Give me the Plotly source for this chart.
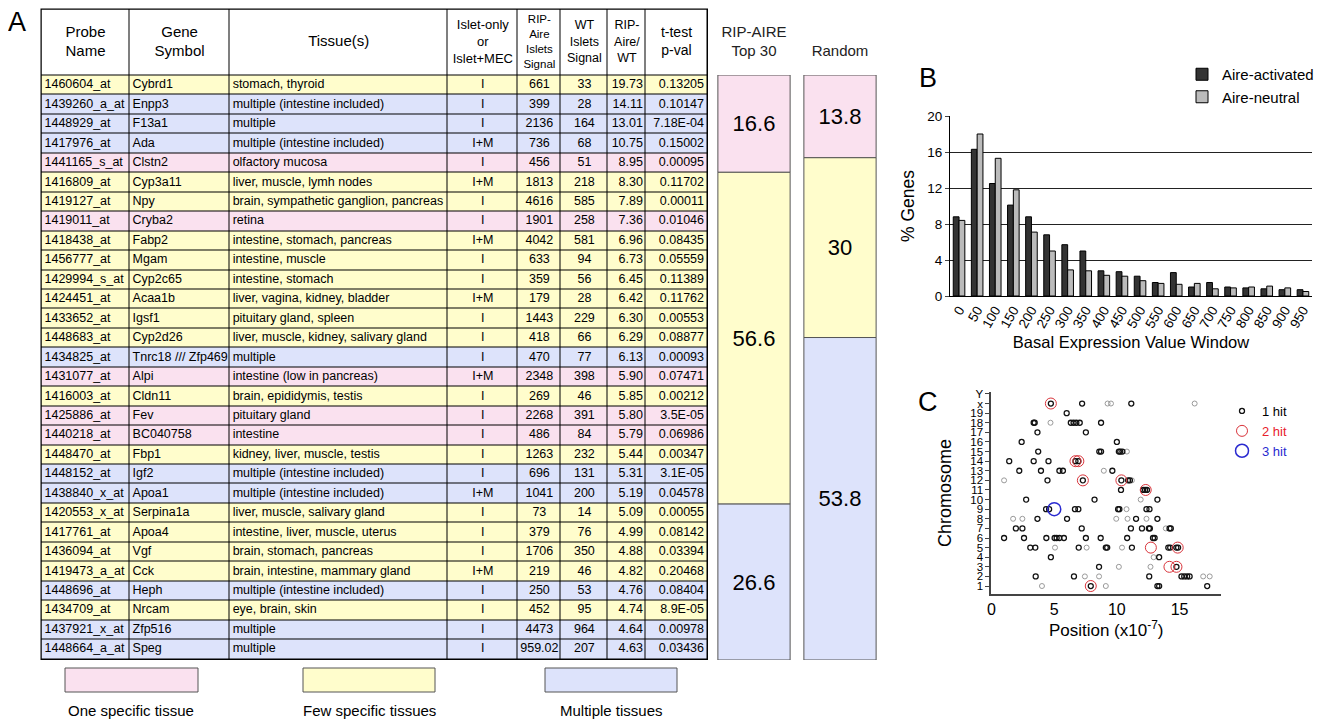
import plotly.graph_objects as go

# figure geometry (the page adds an 8 px body margin)
OFF = 8
W, H = 1325 - OFF, 721 - OFF
FONT = "Liberation Sans, Arial, sans-serif"
PINK, YELLOW, BLUE = "#FAE1EF", "#FFFDCC", "#DDE3FB"


def fx(px):
    return (px - OFF) / W


def fy(py):
    return (H - (py - OFF)) / H


# ---------------- Panel A: table ----------------
headers = ["Probe<br>Name", "Gene<br>Symbol", "Tissue(s)", "Islet-only<br>or<br>Islet+MEC",
           "RIP-<br>Aire<br>Islets<br>Signal", "WT<br>Islets<br>Signal", "RIP-<br>Aire/<br>WT", "t-test<br>p-val"]
probes = ["1460604_at", "1439260_a_at", "1448929_at", "1417976_at", "1441165_s_at", "1416809_at",
          "1419127_at", "1419011_at", "1418438_at", "1456777_at", "1429994_s_at", "1424451_at",
          "1433652_at", "1448683_at", "1434825_at", "1431077_at", "1416003_at", "1425886_at",
          "1440218_at", "1448470_at", "1448152_at", "1438840_x_at", "1420553_x_at", "1417761_at",
          "1436094_at", "1419473_a_at", "1448696_at", "1434709_at", "1437921_x_at", "1448664_a_at"]
genes = ["Cybrd1", "Enpp3", "F13a1", "Ada", "Clstn2", "Cyp3a11", "Npy", "Cryba2", "Fabp2", "Mgam",
         "Cyp2c65", "Acaa1b", "Igsf1", "Cyp2d26", "Tnrc18 /// Zfp469", "Alpi", "Cldn11", "Fev",
         "BC040758", "Fbp1", "Igf2", "Apoa1", "Serpina1a", "Apoa4", "Vgf", "Cck", "Heph", "Nrcam",
         "Zfp516", "Speg"]
tissues = ["stomach, thyroid", "multiple (intestine included)", "multiple", "multiple (intestine included)",
           "olfactory mucosa", "liver, muscle, lymh nodes", "brain, sympathetic ganglion, pancreas",
           "retina", "intestine, stomach, pancreas", "intestine, muscle", "intestine, stomach",
           "liver, vagina, kidney, bladder", "pituitary gland, spleen", "liver, muscle, kidney, salivary gland",
           "multiple", "intestine (low in pancreas)", "brain, epididymis, testis", "pituitary gland",
           "intestine", "kidney, liver, muscle, testis", "multiple (intestine included)",
           "multiple (intestine included)", "liver, muscle, salivary gland", "intestine, liver, muscle, uterus",
           "brain, stomach, pancreas", "brain, intestine, mammary gland", "multiple (intestine included)",
           "eye, brain, skin", "multiple", "multiple"]
islet = ["I", "I", "I", "I+M", "I", "I+M", "I", "I", "I+M", "I", "I", "I+M", "I", "I", "I", "I+M",
         "I", "I", "I", "I", "I", "I+M", "I", "I", "I", "I+M", "I", "I", "I", "I"]
rip_signal = ["661", "399", "2136", "736", "456", "1813", "4616", "1901", "4042", "633", "359", "179",
              "1443", "418", "470", "2348", "269", "2268", "486", "1263", "696", "1041", "73", "379",
              "1706", "219", "250", "452", "4473", "959.02"]
wt_signal = ["33", "28", "164", "68", "51", "218", "585", "258", "581", "94", "56", "28", "229", "66",
             "77", "398", "46", "391", "84", "232", "131", "200", "14", "76", "350", "46", "53", "95",
             "964", "207"]
ratio = ["19.73", "14.11", "13.01", "10.75", "8.95", "8.30", "7.89", "7.36", "6.96", "6.73", "6.45",
         "6.42", "6.30", "6.29", "6.13", "5.90", "5.85", "5.80", "5.79", "5.44", "5.31", "5.19", "5.09",
         "4.99", "4.88", "4.82", "4.76", "4.74", "4.64", "4.63"]
pvals = ["0.13205", "0.10147", "7.18E-04", "0.15002", "0.00095", "0.11702", "0.00011", "0.01046",
         "0.08435", "0.05559", "0.11389", "0.11762", "0.00553", "0.08877", "0.00093", "0.07471",
         "0.00212", "3.5E-05", "0.06986", "0.00347", "3.1E-05", "0.04578", "0.00055", "0.08142",
         "0.03394", "0.20468", "0.08404", "8.9E-05", "0.00978", "0.03436"]
row_cat = ["few", "multi", "multi", "multi", "one", "few", "few", "one", "few", "few", "few", "few",
           "few", "few", "multi", "one", "few", "one", "one", "few", "multi", "multi", "few", "few",
           "few", "few", "multi", "few", "multi", "multi"]

# ---------------- Panel A: summary stacked bars ----------------
groups = ["RIP-AIRE<br>Top 30", "Random"]
cat_names = ["One specific tissue", "Few specific tissues", "Multiple tissues"]
cat_values = {"One specific tissue": [16.6, 13.8],
              "Few specific tissues": [56.6, 30],
              "Multiple tissues": [26.6, 53.8]}

# ---------------- Panel B ----------------
windows = ["0", "50", "100", "150", "200", "250", "300", "350", "400", "450", "500", "550",
           "600", "650", "700", "750", "800", "850", "900", "950"]
aire_activated = [8.8, 16.3, 12.5, 10.1, 8.8, 6.8, 5.7, 5.0, 2.8, 2.7, 2.2, 1.5, 2.6, 1.0, 1.5,
                  1.0, 0.9, 0.8, 0.7, 0.7]
aire_neutral = [8.4, 18.0, 15.3, 11.8, 7.1, 5.0, 2.9, 2.8, 2.3, 2.2, 1.7, 1.4, 1.3, 1.4, 0.8,
                0.9, 1.0, 1.1, 0.9, 0.5]

# ---------------- Panel C ----------------
chromosomes = [str(i) for i in range(1, 20)] + ["x", "Y"]
hit1_chr = (["x"] * 3 + ["19"] + ["18"] * 7 + ["17"] * 2 + ["16"] * 2 + ["15"] * 6 + ["14"] * 5 +
            ["13"] * 5 + ["12"] * 5 + ["11"] * 4 + ["10"] * 3 + ["9"] * 8 + ["8"] * 4 + ["7"] * 9 +
            ["6"] * 12 + ["5"] * 10 + ["4"] * 2 + ["3"] * 2 + ["2"] * 8 + ["1"] * 5)
hit1_pos = [4.74, 7.23, 11.15,
            6.0,
            3.37, 3.45, 6.33, 6.55, 6.77, 7.04, 8.74,
            3.67, 7.53,
            2.41, 10.0,
            3.73, 8.6, 8.74, 10.16, 10.27, 10.44,
            1.42, 3.37, 4.55, 6.7, 6.93,
            2.22, 3.95, 5.42, 5.7, 9.64,
            4.47, 7.29, 10.36, 10.9, 11.04,
            10.33, 12.1, 12.25, 12.4,
            2.77, 8.22, 13.23,
            4.36, 4.6, 6.66, 6.93, 10.1, 10.2, 12.36, 12.6,
            3.67, 6.03, 11.53, 13.23,
            1.95, 2.47, 7.2, 11.12, 12.0, 12.55, 12.63, 14.2, 14.3,
            1.01, 2.6, 4.38, 5.04, 5.2, 5.42, 5.78, 7.53, 8.71, 10.82, 12.88, 13.01,
            3.1, 3.5, 6.96, 9.12, 9.23, 11.2, 14.1, 14.25, 14.74, 14.88,
            4.74, 13.37,
            8.58, 14.75,
            3.53, 6.58, 12.58, 15.15, 15.37, 15.6, 15.8, 18.71,
            7.92, 13.23, 13.37, 17.2, 19.12]
faint_chr = (["x"] * 3 + ["18"] + ["15"] + ["13"] + ["12"] * 2 + ["10"] + ["9"] + ["8"] * 5 +
             ["7"] + ["5"] * 3 + ["4"] + ["3"] * 2 + ["2"] * 4 + ["1"] * 2)
faint_pos = [9.26, 9.53, 16.2, 4.71, 10.8, 8.96, 1.01, 11.2, 11.9, 10.77,
             1.73, 2.47, 9.95, 10.85, 12.36, 13.9, 5.07, 7.59, 10.41, 12.93,
             10.16, 12.68, 7.45, 8.58, 16.88, 17.4, 4.03, 9.12]
hit2_chr = ["x", "14", "14", "12", "12", "11", "5", "5", "3", "3", "1"]
hit2_pos = [4.74, 6.7, 6.93, 7.29, 10.36, 12.3, 12.71, 14.85, 14.19, 14.75, 7.92]
hit3_chr = ["9"]
hit3_pos = [5.01]

fig = go.Figure()

# ---------- table drawn as a heatmap of cells plus text ----------
col_w = [88, 100, 218, 70, 43, 47, 38, 61]
col_align = ["left", "left", "left", "center", "center", "center", "right", "right"]
header_sizes = [15, 15, 15, 13, 11.5, 12.5, 12.5, 14]
header_h, row_h = 66, 19.45
n_rows = len(probes)
x_edges = [0]
for w in col_w:
    x_edges.append(x_edges[-1] + w)
y_edges = [0, header_h] + [header_h + row_h * (i + 1) for i in range(n_rows)]
cat_code = {"one": 1, "few": 2, "multi": 3}
z = [[0] * len(col_w)] + [[cat_code[c]] * len(col_w) for c in row_cat]
fig.add_trace(go.Heatmap(
    x=x_edges, y=y_edges, z=z, zmin=0, zmax=3, showscale=False, xgap=1, ygap=1,
    colorscale=[[0, "white"], [1 / 6, "white"], [1 / 6, PINK], [0.5, PINK], [0.5, YELLOW],
                [5 / 6, YELLOW], [5 / 6, BLUE], [1, BLUE]],
    hoverinfo="skip", xaxis="x4", yaxis="y4"))

columns = [probes, genes, tissues, islet, rip_signal, wt_signal, ratio, pvals]
row_mid = [header_h + row_h * (i + 0.5) for i in range(n_rows)]
for j, col in enumerate(columns):
    left, right = x_edges[j], x_edges[j + 1]
    if col_align[j] == "left":
        xc, pos = left + 3, "middle right"
    elif col_align[j] == "center":
        xc, pos = (left + right) / 2, "middle center"
    else:
        xc, pos = right - 3, "middle left"
    fig.add_trace(go.Scatter(
        x=[(left + right) / 2] + [xc] * n_rows, y=[header_h / 2] + row_mid,
        text=[headers[j]] + col, mode="text",
        textposition=["middle center"] + [pos] * n_rows,
        textfont=dict(family=FONT, color="black", size=[header_sizes[j]] + [12.5] * n_rows),
        cliponaxis=False, showlegend=False, hoverinfo="skip", xaxis="x4", yaxis="y4"))

fig.add_shape(type="rect", xref="x4 domain", yref="y4 domain", x0=0, x1=1, y0=0, y1=1,
              fillcolor="black", line=dict(color="black", width=2), layer="below")

# ---------- stacked summary bars ----------
cat_colors = {"One specific tissue": PINK, "Few specific tissues": YELLOW, "Multiple tissues": BLUE}
totals = [sum(cat_values[c][i] for c in cat_names) for i in range(len(groups))]
bases = [0.0] * len(groups)
for c in cat_names:
    vals = cat_values[c]
    heights = [v / t * 100 for v, t in zip(vals, totals)]
    fig.add_trace(go.Bar(
        x=groups, y=heights, base=list(bases), text=[f"{v:g}" for v in vals],
        textposition="inside", insidetextanchor="middle", textangle=0,
        textfont=dict(size=22, color="black", family=FONT),
        marker=dict(color=cat_colors[c], line=dict(color="#555555", width=1)),
        width=0.84, offsetgroup="stack", showlegend=False, xaxis="x", yaxis="y",
        hoverinfo="skip", name=c))
    bases = [b + h for b, h in zip(bases, heights)]

# ---------- Panel B bars ----------
fig.add_trace(go.Bar(x=windows, y=aire_activated, name="Aire-activated",
                     marker=dict(color="#333333", line=dict(color="black", width=1)),
                     xaxis="x2", yaxis="y2", legend="legend"))
fig.add_trace(go.Bar(x=windows, y=aire_neutral, name="Aire-neutral",
                     marker=dict(color="#BBBBBB", line=dict(color="black", width=1)),
                     xaxis="x2", yaxis="y2", legend="legend"))

# ---------- Panel C scatter ----------
fig.add_trace(go.Scatter(x=faint_pos, y=faint_chr, mode="markers", showlegend=False,
                         marker=dict(symbol="circle-open", size=5, color="#9a9a9a", line=dict(width=1)),
                         xaxis="x3", yaxis="y3", cliponaxis=False))
fig.add_trace(go.Scatter(x=hit1_pos, y=hit1_chr, mode="markers", name="1 hit",
                         marker=dict(symbol="circle-open", size=5, color="#111111", line=dict(width=1.3)),
                         xaxis="x3", yaxis="y3", cliponaxis=False, legend="legend2"))
fig.add_trace(go.Scatter(x=hit2_pos, y=hit2_chr, mode="markers",
                         name="<span style='color:#e8202a'>2 hit</span>",
                         marker=dict(symbol="circle-open", size=11, color="#d9343b", line=dict(width=1)),
                         xaxis="x3", yaxis="y3", cliponaxis=False, legend="legend2"))
fig.add_trace(go.Scatter(x=hit3_pos, y=hit3_chr, mode="markers",
                         name="<span style='color:#2a2ad0'>3 hit</span>",
                         marker=dict(symbol="circle-open", size=13, color="#2a2ad0", line=dict(width=1.5)),
                         xaxis="x3", yaxis="y3", cliponaxis=False, legend="legend2"))

# ---------- legend boxes under the table ----------
for c, (x0, x1) in zip(cat_names, [(65, 198), (303, 435), (545, 677)]):
    fig.add_shape(type="rect", xref="paper", yref="paper", x0=fx(x0), x1=fx(x1),
                  y0=fy(692), y1=fy(668), fillcolor=cat_colors[c],
                  line=dict(color="#555555", width=1))
    fig.add_annotation(x=fx((x0 + x1) / 2), y=fy(710), xref="paper", yref="paper",
                       xanchor="center", yanchor="middle",
                       text=c, showarrow=False, font=dict(size=15, color="black"))

for letter, (px, py) in {"A": (17, 22), "B": (928, 78), "C": (928, 402)}.items():
    fig.add_annotation(x=fx(px), y=fy(py), xref="paper", yref="paper", text=letter,
                       xanchor="center", yanchor="middle",
                       showarrow=False, font=dict(size=27, color="black"))

fig.update_layout(
    width=W, height=H, margin=dict(l=0, r=0, t=0, b=0, autoexpand=False),
    paper_bgcolor="white", plot_bgcolor="white",
    font=dict(family=FONT, color="black"),
    barmode="group", bargap=0.36, bargroupgap=0.0,
    xaxis=dict(domain=[fx(711), fx(883)], type="category", side="top", anchor="y",
               automargin=False, showline=False, ticks="", showgrid=False, ticklabelstandoff=15,
               tickfont=dict(size=15, color="#222")),
    yaxis=dict(domain=[fy(660), fy(75)], range=[100, 0], visible=False, automargin=False),
    xaxis2=dict(domain=[fx(950), fx(1312)], type="category", anchor="y2", tickangle=-60,
                automargin=False, tickfont=dict(size=13.5), showline=True, linecolor="black",
                ticks="", showgrid=False,
                title=dict(text="Basal Expression Value Window", font=dict(size=16.5), standoff=6)),
    yaxis2=dict(domain=[fy(296), fy(116)], range=[0, 20], dtick=4, anchor="x2",
                automargin=False,
                showgrid=True, gridcolor="#222", gridwidth=1, showline=True, linecolor="black",
                ticks="outside", ticklen=4, tickfont=dict(size=13.5), zeroline=False,
                title=dict(text="% Genes", font=dict(size=17.5), standoff=8)),
    xaxis3=dict(domain=[fx(991.4), fx(1221)], range=[0, 18.3], tickvals=[0, 5, 10, 15],
                anchor="y3", automargin=False, showline=True, linecolor="#444", linewidth=2,
                ticks="", showgrid=False, zeroline=False, tickfont=dict(size=16),
                title=dict(text="Position (x10<sup>-7</sup>)", font=dict(size=17), standoff=4)),
    yaxis3=dict(domain=[fy(594), fy(392)], type="category",
                categoryorder="array", categoryarray=chromosomes,
                tickmode="array", tickvals=chromosomes, ticktext=chromosomes,
                range=[-0.83, 20.2], anchor="x3", automargin=False, showline=True,
                linecolor="#444", linewidth=2,
                ticks="outside", ticklen=4, showgrid=False, tickfont=dict(size=11.5),
                title=dict(text="Chromosome", font=dict(size=18), standoff=14)),
    xaxis4=dict(domain=[fx(41.5), fx(707)], range=[0, x_edges[-1]], anchor="y4",
                visible=False, automargin=False),
    yaxis4=dict(domain=[fy(659), fy(9.5)], range=[y_edges[-1], 0], anchor="x4",
                visible=False, automargin=False),
    legend=dict(x=fx(1182), y=fy(58), xanchor="left", yanchor="top",
                font=dict(size=15), bgcolor="rgba(0,0,0,0)", itemwidth=30, tracegroupgap=0),
    legend2=dict(x=fx(1222), y=fy(396), xanchor="left", yanchor="top",
                 font=dict(size=13), bgcolor="rgba(0,0,0,0)", itemwidth=30, itemsizing="trace"),
)

fig.write_html("out.html")
